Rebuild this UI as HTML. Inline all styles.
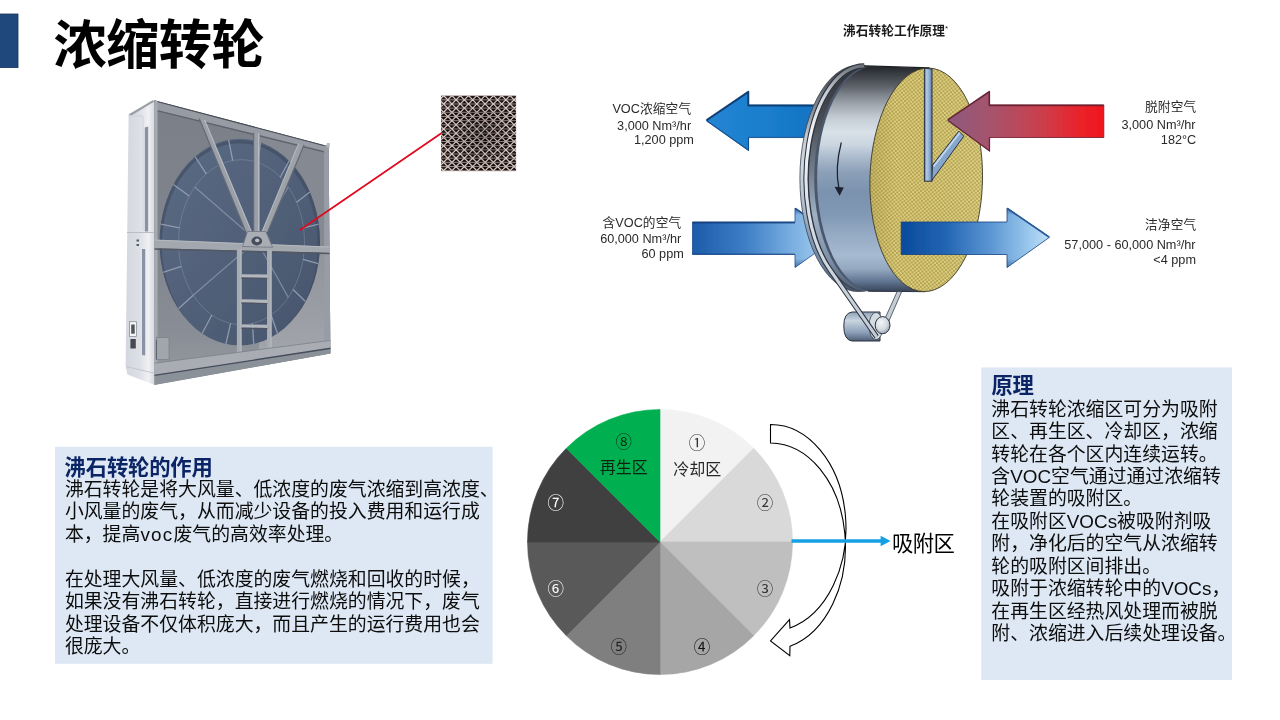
<!DOCTYPE html>
<html lang="zh-CN">
<head>
<meta charset="utf-8">
<title>浓缩转轮</title>
<style>
html,body{margin:0;padding:0;background:#fff;}
body{width:1280px;height:720px;overflow:hidden;position:relative;font-family:"Liberation Sans","Noto Sans CJK SC",sans-serif;}
svg{position:absolute;left:0;top:0;display:block;will-change:transform;}
svg text{font-family:"Liberation Sans","Noto Sans CJK SC",sans-serif;white-space:pre;font-kerning:none;}
</style>
</head>
<body>
<svg width="1280" height="720" viewBox="0 0 1280 720">
<defs>

<filter id="soft" x="-5%" y="-5%" width="110%" height="110%"><feGaussianBlur stdDeviation="0.75"/></filter>
<filter id="soft2" x="-5%" y="-5%" width="110%" height="110%"><feGaussianBlur stdDeviation="0.35"/></filter>
<linearGradient id="mSide" x1="0" y1="0" x2="1" y2="0">
 <stop offset="0" stop-color="#d3d7de"/><stop offset="0.5" stop-color="#dde0e6"/><stop offset="0.78" stop-color="#f0f1f4"/><stop offset="1" stop-color="#d5d8de"/>
</linearGradient>
<linearGradient id="mWheel" x1="0" y1="0" x2="1" y2="1">
 <stop offset="0" stop-color="#5b6b84"/><stop offset="0.5" stop-color="#516078"/><stop offset="1" stop-color="#47556c"/>
</linearGradient>
<linearGradient id="mFront" x1="0" y1="0" x2="0" y2="1">
 <stop offset="0" stop-color="#7a7f88"/><stop offset="0.5" stop-color="#7f848d"/><stop offset="0.8" stop-color="#898d95"/><stop offset="1" stop-color="#979ba2"/>
</linearGradient>
<clipPath id="mClipFront"><path d="M154.3 100.3L328.6 146.2L330.4 353.6L154.3 385Z"/></clipPath>
<linearGradient id="mFrontR" x1="0" y1="0" x2="0" y2="1"><stop offset="0" stop-color="#8f939a"/><stop offset="1" stop-color="#a4a7ad"/></linearGradient>
<clipPath id="mClipWheel"><ellipse cx="239.8" cy="242.2" rx="80.2" ry="103.4"/></clipPath>
<clipPath id="hcClip"><rect x="441" y="95.6" width="75.2" height="75.6"/></clipPath>
<radialGradient id="honeyShade" cx="0.55" cy="0.5" r="0.75">
 <stop offset="0" stop-color="#000" stop-opacity="0.28"/><stop offset="0.6" stop-color="#000" stop-opacity="0.05"/><stop offset="1" stop-color="#fff" stop-opacity="0.12"/>
</radialGradient>
<linearGradient id="wBody" gradientUnits="userSpaceOnUse" x1="0" y1="65" x2="0" y2="292">
 <stop offset="0" stop-color="#1f2226"/><stop offset="0.04" stop-color="#3a3d43"/><stop offset="0.093" stop-color="#5c6068"/>
 <stop offset="0.13" stop-color="#7d838b"/><stop offset="0.176" stop-color="#a0a7af"/><stop offset="0.233" stop-color="#c4ccd4"/>
 <stop offset="0.295" stop-color="#d8e0e8"/><stop offset="0.35" stop-color="#cbd6e0"/><stop offset="0.40" stop-color="#afbecf"/>
 <stop offset="0.47" stop-color="#8ca0b8"/><stop offset="0.56" stop-color="#7b92ae"/><stop offset="0.66" stop-color="#8199b5"/>
 <stop offset="0.75" stop-color="#96abc4"/><stop offset="0.84" stop-color="#a6bad0"/><stop offset="0.9" stop-color="#93a7bf"/>
 <stop offset="0.955" stop-color="#5e7390"/><stop offset="1" stop-color="#364152"/>
</linearGradient>
<linearGradient id="wRim" gradientUnits="userSpaceOnUse" x1="0" y1="65" x2="0" y2="292">
 <stop offset="0" stop-color="#34383e"/><stop offset="0.1" stop-color="#5d626a"/><stop offset="0.2" stop-color="#8a9098"/><stop offset="0.32" stop-color="#c4ccd4"/>
 <stop offset="0.45" stop-color="#cfd7df"/><stop offset="0.6" stop-color="#b4c1cf"/><stop offset="0.72" stop-color="#8fa3bb"/><stop offset="0.86" stop-color="#6f87a5"/><stop offset="1" stop-color="#46556a"/>
</linearGradient>
<pattern id="wHatch" width="3.9" height="3.9" patternUnits="userSpaceOnUse" patternTransform="rotate(6)">
 <rect width="3.9" height="3.9" fill="#ddcf7d"/>
 <path d="M0 0L3.9 3.9M3.9 0L0 3.9" stroke="#b3a152" stroke-width="0.95"/>
</pattern>
<linearGradient id="wRim2" gradientUnits="userSpaceOnUse" x1="0" y1="65" x2="0" y2="292">
 <stop offset="0" stop-color="#2e3238"/><stop offset="0.25" stop-color="#4a4e55"/><stop offset="0.45" stop-color="#6f7a88"/>
 <stop offset="0.66" stop-color="#9eb0c4"/><stop offset="0.85" stop-color="#7f93ab"/><stop offset="1" stop-color="#4a596e"/>
</linearGradient>
<linearGradient id="wBelt" gradientUnits="userSpaceOnUse" x1="0" y1="65" x2="0" y2="340">
 <stop offset="0" stop-color="#6b7078"/><stop offset="0.1" stop-color="#c8cdd3"/><stop offset="0.25" stop-color="#f4f6f8"/>
 <stop offset="0.6" stop-color="#d3dae2"/><stop offset="1" stop-color="#c3cbd4"/>
</linearGradient>
<linearGradient id="wFaceShade" x1="0" y1="0" x2="1" y2="0">
 <stop offset="0" stop-color="#7a6420" stop-opacity="0.22"/><stop offset="0.25" stop-color="#7a6420" stop-opacity="0"/><stop offset="1" stop-color="#fff" stop-opacity="0.06"/>
</linearGradient>
<linearGradient id="aRed" gradientUnits="userSpaceOnUse" x1="947" y1="0" x2="1104" y2="0">
 <stop offset="0" stop-color="#8c5b7d"/><stop offset="0.3" stop-color="#a8526a"/><stop offset="0.6" stop-color="#cb3f4c"/><stop offset="0.85" stop-color="#ea2229"/><stop offset="1" stop-color="#f0161e"/>
</linearGradient>
<linearGradient id="aBlueR" gradientUnits="userSpaceOnUse" x1="901" y1="0" x2="1050" y2="0">
 <stop offset="0" stop-color="#0a4a9c"/><stop offset="0.3" stop-color="#2265b3"/><stop offset="0.6" stop-color="#5b96d2"/><stop offset="0.85" stop-color="#98c6ec"/><stop offset="1" stop-color="#c0e0f8"/>
</linearGradient>
<linearGradient id="aBlueL" gradientUnits="userSpaceOnUse" x1="692" y1="0" x2="838" y2="0">
 <stop offset="0" stop-color="#1c5cab"/><stop offset="0.35" stop-color="#3b7cc4"/><stop offset="0.7" stop-color="#7db1e2"/><stop offset="1" stop-color="#b4d8f5"/>
</linearGradient>
<linearGradient id="aBlueLv" x1="0" y1="0" x2="0" y2="1">
 <stop offset="0" stop-color="#082e6a" stop-opacity="0.55"/><stop offset="0.12" stop-color="#082e6a" stop-opacity="0"/><stop offset="0.85" stop-color="#082e6a" stop-opacity="0"/><stop offset="1" stop-color="#082e6a" stop-opacity="0.5"/>
</linearGradient>
<linearGradient id="aBlueT" gradientUnits="userSpaceOnUse" x1="706" y1="0" x2="815" y2="0">
 <stop offset="0" stop-color="#2384d2"/><stop offset="0.5" stop-color="#1c7fce"/><stop offset="1" stop-color="#1273c3"/>
</linearGradient>
<linearGradient id="wBar" x1="0" y1="0" x2="1" y2="0">
 <stop offset="0" stop-color="#54709a"/><stop offset="0.3" stop-color="#b2cbe6"/><stop offset="0.65" stop-color="#8dadd2"/><stop offset="1" stop-color="#5876a0"/>
</linearGradient>
<linearGradient id="wMotor" x1="0" y1="0" x2="0" y2="1">
 <stop offset="0" stop-color="#8ea2b8"/><stop offset="0.3" stop-color="#c9d5e0"/><stop offset="0.7" stop-color="#8ba0b8"/><stop offset="1" stop-color="#4f6078"/>
</linearGradient>
<radialGradient id="wCap" cx="0.4" cy="0.35" r="0.7">
 <stop offset="0" stop-color="#f4f6f8"/><stop offset="0.6" stop-color="#d3d9e0"/><stop offset="1" stop-color="#8e99a8"/>
</radialGradient>
<clipPath id="wClipFace"><ellipse cx="926.2" cy="179.8" rx="56.3" ry="111.8" transform="rotate(1.3 926.2 179.8)"/></clipPath>
</defs>
<rect x="-1" y="14" width="19" height="53.6" fill="#1f497d" stroke="#17365d" stroke-width="0.8"/>
<text x="53.4 106.1 158.8 211.5" y="64.3" font-size="53.3" font-weight="bold" fill="#000">浓缩转轮</text>
<rect x="55" y="446.8" width="437.6" height="217" fill="#dde8f4"/>
<rect x="981.2" y="367.5" width="250.8" height="312.5" fill="#dde8f4"/>
<text x="64.6 85.75 106.9 128.05 149.2 170.35 191.5" y="474.6" font-size="21.33" font-weight="bold" fill="#0b2466">沸石转轮的作用</text>
<text x="64.9" y="496" font-size="18.87" fill="#0d0d0d">沸石转轮是将大风量、低浓度的废气浓缩到高浓度、</text>
<text x="64.9" y="518.45" font-size="18.87" fill="#0d0d0d">小风量的废气，从而减少设备的投入费用和运行成</text>
<text y="540.9" font-size="18.87" fill="#0d0d0d"><tspan x="64.9">本，提高</tspan><tspan x="140.38" letter-spacing="1.25">voc</tspan><tspan x="173.49">废气的高效率处理。</tspan></text>
<text x="64.9" y="585.8" font-size="18.87" fill="#0d0d0d">在处理大风量、低浓度的废气燃烧和回收的时候，</text>
<text x="64.9" y="608.25" font-size="18.87" fill="#0d0d0d">如果没有沸石转轮，直接进行燃烧的情况下，废气</text>
<text x="64.9" y="630.7" font-size="18.87" fill="#0d0d0d">处理设备不仅体积庞大，而且产生的运行费用也会</text>
<text x="64.9" y="653.15" font-size="18.87" fill="#0d0d0d">很庞大。</text>
<text x="991.6 1012.6" y="392.6" font-size="21.33" font-weight="bold" fill="#0b2466">原理</text>
<text x="991.3" y="415.6" font-size="18.87" fill="#0d0d0d">沸石转轮浓缩区可分为吸附</text>
<text x="991.3" y="438.05" font-size="18.87" fill="#0d0d0d">区、再生区、冷却区，浓缩</text>
<text x="991.3" y="460.5" font-size="18.87" fill="#0d0d0d">转轮在各个区内连续运转。</text>
<text y="482.95" font-size="18.87" fill="#0d0d0d"><tspan x="991.3">含</tspan><tspan x="1010.17">VOC</tspan><tspan x="1051.06">空气通过通过浓缩转</tspan></text>
<text x="991.3" y="505.4" font-size="18.87" fill="#0d0d0d">轮装置的吸附区。</text>
<text y="527.85" font-size="18.87" fill="#0d0d0d"><tspan x="991.3">在吸附区</tspan><tspan x="1066.78">VOCs</tspan><tspan x="1117.11">被吸附剂吸</tspan></text>
<text x="991.3" y="550.3" font-size="18.87" fill="#0d0d0d">附，净化后的空气从浓缩转</text>
<text x="991.3" y="572.75" font-size="18.87" fill="#0d0d0d">轮的吸附区间排出。</text>
<text y="595.2" font-size="18.87" fill="#0d0d0d"><tspan x="991.3">吸附于浓缩转轮中的</tspan><tspan x="1161.13">VOCs</tspan><tspan x="1211.46">，</tspan></text>
<text x="991.3" y="617.65" font-size="18.87" fill="#0d0d0d">在再生区经热风处理而被脱</text>
<text x="991.3" y="640.1" font-size="18.87" fill="#0d0d0d">附、浓缩进入后续处理设备。</text>
<path d="M660 542L660 409.5A132.5 132.5 0 0 1 753.69 448.31Z" fill="#f2f2f2" stroke="#f2f2f2" stroke-width="0.6"/>
<path d="M660 542L753.69 448.31A132.5 132.5 0 0 1 792.5 542Z" fill="#d9d9d9" stroke="#d9d9d9" stroke-width="0.6"/>
<path d="M660 542L792.5 542A132.5 132.5 0 0 1 753.69 635.69Z" fill="#bfbfbf" stroke="#bfbfbf" stroke-width="0.6"/>
<path d="M660 542L753.69 635.69A132.5 132.5 0 0 1 660 674.5Z" fill="#a6a6a6" stroke="#a6a6a6" stroke-width="0.6"/>
<path d="M660 542L660 674.5A132.5 132.5 0 0 1 566.31 635.69Z" fill="#7f7f7f" stroke="#7f7f7f" stroke-width="0.6"/>
<path d="M660 542L566.31 635.69A132.5 132.5 0 0 1 527.5 542Z" fill="#595959" stroke="#595959" stroke-width="0.6"/>
<path d="M660 542L527.5 542A132.5 132.5 0 0 1 566.31 448.31Z" fill="#404040" stroke="#404040" stroke-width="0.6"/>
<path d="M660 542L566.31 448.31A132.5 132.5 0 0 1 660 409.5Z" fill="#00b050" stroke="#00b050" stroke-width="0.6"/>
<text x="688.75" y="449.3" font-size="16.5" fill="#333">①</text>
<text x="756.75" y="508.8" font-size="16.5" fill="#333">②</text>
<text x="756.75" y="595" font-size="16.5" fill="#333">③</text>
<text x="693.75" y="652.6" font-size="16.5" fill="#111">④</text>
<text x="610.55" y="652.6" font-size="16.5" fill="#222">⑤</text>
<text x="547.55" y="595" font-size="16.5" fill="#fff">⑥</text>
<text x="547.55" y="508.8" font-size="16.5" fill="#fff">⑦</text>
<text x="615.55" y="448" font-size="16.5" fill="#0a2a12">⑧</text>
<text x="599.8" y="473.4" font-size="16" fill="#0c2412">再生区</text>
<text x="673.3" y="475.4" font-size="16" fill="#262626">冷却区</text>
<path d="M770.5 424.5A75.4 103.5 0 0 1 790 628L789.5 619.6L770.5 641L789.8 655.6L790 646.3A75.4 103.5 0 0 0 770.5 443Z" fill="none" stroke="#000" stroke-width="1.1" stroke-linejoin="miter"/>
<path d="M791.5 541H882" stroke="#16a0e4" stroke-width="3.5" fill="none"/>
<path d="M880.6 535.8L890.6 541L880.6 546.2Z" fill="#16a0e4"/>
<text x="892 912.7 933.4" y="551" font-size="21.33" fill="#000">吸附区</text>
<g filter="url(#soft)">
<path d="M128.6 114.2 L152.5 100.6 L154.6 100.3 L154.6 385.0 L127.4 374.4 L125.6 366.0 L127.3 230.0 Z" fill="url(#mSide)"/>
<path d="M128.6 114.4 L152.6 100.3 L154.5 101.5 L131.5 115.6 Z" fill="#9a9fa8"/>
<path d="M144.8 127.5 L148.2 126.5 L148.2 231.5 L144.8 231.5 Z" fill="#8a93a6"/>
<path d="M142.0 249.0 L145.2 249.0 L145.2 355.5 L142.0 355.0 Z" fill="#8a93a6"/>
<path d="M127 232.5L154 232.5" stroke="#b9bdc5" stroke-width="1"/>
<path d="M128.5 116L143 116L143 231" stroke="#cfd2d8" stroke-width="1" fill="none"/>
<path d="M126 366.5L154.3 373.2" stroke="#c3c7ce" stroke-width="1"/>
<rect x="129.5" y="321.7" width="6.9" height="14.7" fill="#f4f5f6" stroke="#8c919a" stroke-width="0.8"/>
<rect x="131.2" y="324.5" width="3.5" height="9.2" fill="#4f5561"/>
<rect x="130.4" y="339" width="5.4" height="9.5" fill="#444a56"/>
<rect x="136.5" y="239.5" width="2.5" height="2" fill="#555b66"/><rect x="136.5" y="244" width="2.5" height="2" fill="#555b66"/>
<g clip-path="url(#mClipFront)">
<rect x="150" y="95" width="185" height="295" fill="url(#mFront)"/>
<path d="M259.0 250.0 L331.0 253.0 L331.0 354.0 L259.0 366.0 Z" fill="url(#mFrontR)"/>
<path d="M259.0 133.0 L331.0 147.0 L331.0 250.0 L259.0 247.0 Z" fill="#858a92"/>
<ellipse cx="239.8" cy="242.2" rx="80.2" ry="103.4" fill="url(#mWheel)"/>
<g clip-path="url(#mClipWheel)" fill="none">
<ellipse cx="239.8" cy="245" rx="79.5" ry="103.4" stroke="#3d495e" stroke-width="3.2" opacity="0.6"/>
<ellipse cx="241.5" cy="242.2" rx="63" ry="82.5" stroke="#8692a8" stroke-width="0.9" opacity="0.55"/>
<path d="M303.1 259.4L318.2 263.7M293.1 289.5L305.5 301.5M271.1 315.0L277.5 333.5M252.4 323.4L253.7 344.0M230.6 323.4L225.9 344.0M211.9 315.0L202.1 333.5M193.2 295.2L178.4 308.7M181.3 266.3L163.1 272.4M179.5 227.9L160.8 224.2M189.3 196.1L173.3 184.4M206.3 173.8L195.0 156.5M232.7 160.5L228.6 139.8M257.8 162.5L260.6 142.3M280.3 177.2L289.2 160.7M296.6 202.2L309.9 192.1M303.5 227.9L318.8 224.2" stroke="#a3aec0" stroke-width="1.3" opacity="0.75"/>
<path d="M256.5 240.5L194.7 187.0M256.5 240.5L193.2 295.2M256.5 240.5L288.3 187.0M256.5 240.5L288.3 297.4" stroke="#929eb2" stroke-width="1.2" opacity="0.7"/>
</g>
<path d="M154.3 100.3 L328.6 146.2 L328.6 151.8 L154.3 109.8 Z" fill="#979ba3"/>
<path d="M154.3 100.6L328.6 146.4" stroke="#474c55" stroke-width="1.5"/>
<path d="M157 110.6L324 151.8" stroke="#5f646e" stroke-width="1.3"/>
<path d="M154.3 100.3 L157.6 101.2 L157.6 385.0 L154.3 385.0 Z" fill="#a6aab1"/>
<path d="M324.2 145.0 L331.0 147.0 L331.0 353.0 L324.2 354.0 Z" fill="#989ca4"/>
<path d="M199.4 118.6 L204.6 120.0 L251.5 232.0 L246.0 232.0 Z" fill="#9b9fa7"/>
<path d="M204.6 120L251.5 232" stroke="#b9bdc4" stroke-width="1.1"/>
<path d="M199.2 118.6L245.8 232" stroke="#646a76" stroke-width="1.2"/>
<path d="M298.6 143.6 L303.8 145.0 L267.5 232.0 L262.0 232.0 Z" fill="#9da1a8"/>
<path d="M298.6 143.6L262 232" stroke="#b5b9c0" stroke-width="1.1"/>
<path d="M304 145L267.7 232" stroke="#646a76" stroke-width="1.2"/>
<path d="M253.8 132.3 L259.6 133.8 L259.6 232.0 L253.8 232.0 Z" fill="#9a9ea6"/>
<path d="M258.6 133.6V232" stroke="#b7bbc2" stroke-width="1.2"/>
<path d="M253.7 132.4V232" stroke="#666c78" stroke-width="1.1"/>
<path d="M154.3 239.8 L331.0 246.9 L331.0 252.8 L154.3 248.2 Z" fill="#a3a7ae"/>
<path d="M154.3 240L331 247.1" stroke="#b6bac1" stroke-width="1"/>
<path d="M154.3 249L331 253.6" stroke="#525864" stroke-width="1.6"/>
<path d="M247.5 231.5 L265.8 231.5 L272.6 247.3 L242.5 246.5 Z" fill="#a9adb4" stroke="#757a85" stroke-width="0.9"/>
<ellipse cx="256.8" cy="241" rx="5.4" ry="4.4" fill="#474e5a"/>
<ellipse cx="257.2" cy="240.4" rx="2.2" ry="1.8" fill="#b9bdc4"/>
<path d="M236.9 248.5 L241.6 248.7 L241.6 356.0 L236.9 356.6 Z" fill="#a7abb2"/>
<path d="M241 249V356" stroke="#bbbfc6" stroke-width="0.9"/>
<path d="M267.0 249.6 L271.6 249.8 L271.6 351.4 L267.0 352.0 Z" fill="#a7abb2"/>
<path d="M271 250V351.5" stroke="#bbbfc6" stroke-width="0.9"/>
<path d="M241.4 274.2 L267.4 274.6 L267.4 277.8 L241.4 277.4 Z" fill="#b4b8be"/>
<path d="M241.4 278.1L267.4 278.5" stroke="#4f5561" stroke-width="1.2"/>
<path d="M241.4 299.3 L267.4 299.7 L267.4 302.9 L241.4 302.5 Z" fill="#b4b8be"/>
<path d="M241.4 303.2L267.4 303.6" stroke="#4f5561" stroke-width="1.2"/>
<path d="M241.4 324.4 L267.4 324.8 L267.4 328.0 L241.4 327.6 Z" fill="#b4b8be"/>
<path d="M241.4 328.3L267.4 328.7" stroke="#4f5561" stroke-width="1.2"/>
<rect x="156.6" y="337.5" width="12.4" height="22" fill="#a1a5ac" stroke="#7a7f88" stroke-width="0.7"/>
<path d="M156.4 340V359.5" stroke="#5b616c" stroke-width="1.1"/>
<path d="M154.3 363.2 L331.0 340.3 L331.0 348.2 L154.3 375.2 Z" fill="#a9adb3"/>
<path d="M154.3 363.2L331 340.3" stroke="#7c818a" stroke-width="0.8"/>
<path d="M154.3 375.2 L331.0 348.2 L331.0 354.0 L154.3 385.0 Z" fill="#8b9199"/>
<path d="M154.3 375.4L331 348.3" stroke="#454e5b" stroke-width="1.4"/>
</g>
<rect x="326.8" y="143" width="3" height="4.5" fill="#b6bac0"/>
</g>
<path d="M300.3 229.8L441.3 133.2" stroke="#e00a20" stroke-width="1.75" stroke-linecap="round"/>
<g filter="url(#soft2)"><g clip-path="url(#hcClip)"><rect x="441.0" y="95.6" width="75.2" height="75.6" fill="#170e0f"/><path d="M440.0 95.63H517.2M440.0 99.80H517.2M440.0 103.97H517.2M440.0 108.14H517.2M440.0 112.31H517.2M440.0 116.48H517.2M440.0 120.65H517.2M440.0 124.82H517.2M440.0 128.99H517.2M440.0 133.16H517.2M440.0 137.33H517.2M440.0 141.50H517.2M440.0 145.67H517.2M440.0 149.84H517.2M440.0 154.01H517.2M440.0 158.18H517.2M440.0 162.35H517.2M440.0 166.52H517.2M440.0 170.69H517.2" stroke="#b5a199" stroke-width="0.85" fill="none"/><path d="M344.00 95.63L427.00 179.03M344.00 95.63L261.00 179.03M352.30 95.63L435.30 179.03M352.30 95.63L269.30 179.03M360.60 95.63L443.60 179.03M360.60 95.63L277.60 179.03M368.90 95.63L451.90 179.03M368.90 95.63L285.90 179.03M377.20 95.63L460.20 179.03M377.20 95.63L294.20 179.03M385.50 95.63L468.50 179.03M385.50 95.63L302.50 179.03M393.80 95.63L476.80 179.03M393.80 95.63L310.80 179.03M402.10 95.63L485.10 179.03M402.10 95.63L319.10 179.03M410.40 95.63L493.40 179.03M410.40 95.63L327.40 179.03M418.70 95.63L501.70 179.03M418.70 95.63L335.70 179.03M427.00 95.63L510.00 179.03M427.00 95.63L344.00 179.03M435.30 95.63L518.30 179.03M435.30 95.63L352.30 179.03M443.60 95.63L526.60 179.03M443.60 95.63L360.60 179.03M451.90 95.63L534.90 179.03M451.90 95.63L368.90 179.03M460.20 95.63L543.20 179.03M460.20 95.63L377.20 179.03M468.50 95.63L551.50 179.03M468.50 95.63L385.50 179.03M476.80 95.63L559.80 179.03M476.80 95.63L393.80 179.03M485.10 95.63L568.10 179.03M485.10 95.63L402.10 179.03M493.40 95.63L576.40 179.03M493.40 95.63L410.40 179.03M501.70 95.63L584.70 179.03M501.70 95.63L418.70 179.03M510.00 95.63L593.00 179.03M510.00 95.63L427.00 179.03M518.30 95.63L601.30 179.03M518.30 95.63L435.30 179.03M526.60 95.63L609.60 179.03M526.60 95.63L443.60 179.03M534.90 95.63L617.90 179.03M534.90 95.63L451.90 179.03M543.20 95.63L626.20 179.03M543.20 95.63L460.20 179.03M551.50 95.63L634.50 179.03M551.50 95.63L468.50 179.03M559.80 95.63L642.80 179.03M559.80 95.63L476.80 179.03M568.10 95.63L651.10 179.03M568.10 95.63L485.10 179.03M576.40 95.63L659.40 179.03M576.40 95.63L493.40 179.03M584.70 95.63L667.70 179.03M584.70 95.63L501.70 179.03M593.00 95.63L676.00 179.03M593.00 95.63L510.00 179.03M601.30 95.63L684.30 179.03M601.30 95.63L518.30 179.03M609.60 95.63L692.60 179.03M609.60 95.63L526.60 179.03M617.90 95.63L700.90 179.03M617.90 95.63L534.90 179.03M626.20 95.63L709.20 179.03M626.20 95.63L543.20 179.03M634.50 95.63L717.50 179.03M634.50 95.63L551.50 179.03" stroke="#e2d2cb" stroke-width="1.25" fill="none"/><rect x="441.0" y="95.6" width="75.2" height="75.6" fill="url(#honeyShade)"/></g></g>
<g filter="url(#soft2)">
<path d="M706.2 120.4L748.5 91.4V105.2H818V137.3H748.5V150.6Z" fill="url(#aBlueT)" stroke="#0c56a0" stroke-width="0.9" stroke-linejoin="round"/>
<path d="M706.8 121L748.5 150.2V137.3" stroke="#0a3f7c" stroke-width="1.2" fill="none" opacity="0.6"/>
<path d="M706.6 120.2L748.3 91.8V105.6H818" stroke="#0a3568" stroke-width="2" fill="none" stroke-linejoin="round" opacity="0.85"/>
<path d="M748.5 137.6H818" stroke="#0a3f7c" stroke-width="1" opacity="0.55"/>
<path d="M692.5 222H795V208L837 237.6L795 267.5V254.5H692.5Z" fill="url(#aBlueL)" stroke="#1d4f92" stroke-width="0.8" stroke-linejoin="round"/>
<path d="M692.5 222H795V208L837 237.6L795 267.5V254.5H692.5Z" fill="url(#aBlueLv)"/>
<path d="M795.6 208.6L812 220" stroke="#1d4f92" stroke-width="1.6"/>
<path d="M692.5 222.6H795" stroke="#123d7a" stroke-width="1.8" opacity="0.8"/>
<path d="M692.5 254H795" stroke="#123d7a" stroke-width="1.2" opacity="0.6"/>
<ellipse cx="858.5" cy="178.4" rx="58.6" ry="113.2" fill="url(#wRim)" stroke="#3c4350" stroke-width="0.8"/>
<ellipse cx="864.2" cy="178.6" rx="58.2" ry="112.7" fill="#3f4654"/>
<ellipse cx="867.2" cy="178.7" rx="58.2" ry="112.6" fill="url(#wRim2)"/>
<ellipse cx="872.2" cy="178.8" rx="58" ry="112.6" fill="#4b586c"/>
<path d="M873 66.3A57.6 112.6 0 0 0 873 291.4L925 291.6L929.5 68Z" fill="url(#wBody)"/>
<path d="M858 65.6L929.5 67.9" stroke="#1f2226" stroke-width="1.2" fill="none"/>
<path d="M868 291.2L925 291.7" stroke="#2a3342" stroke-width="1" fill="none"/>
<path d="M841.3 142.5Q834.6 168 839 189" stroke="#1d2230" stroke-width="1.25" fill="none"/>
<path d="M834.6 186.8L843.8 187.4L839.6 195.8Z" fill="#1d2230"/>
<g clip-path="url(#wClipFace)"><rect x="865" y="60" width="125" height="240" fill="url(#wHatch)"/><rect x="865" y="60" width="125" height="240" fill="url(#wFaceShade)"/></g>
<ellipse cx="926.2" cy="179.8" rx="56.3" ry="111.8" transform="rotate(1.3 926.2 179.8)" fill="none" stroke="#3d3a2a" stroke-width="0.9"/>
<path d="M932.5 165L958.8 131.2L963.8 136.2L931.2 181.3Z" fill="#86a6cc" stroke="#2a3340" stroke-width="1" stroke-linejoin="round"/>
<path d="M933.6 166.6L959.8 132.8" stroke="#c6daee" stroke-width="1.6"/>
<path d="M924.4 68.4L932 69V181.2H924.4Z" fill="url(#wBar)" stroke="#2a3340" stroke-width="1" stroke-linejoin="round"/>
<path d="M947.5 120L989.5 91.2V105H1103.8V137.5H989.5V151.2Z" fill="url(#aRed)" stroke="#7a2436" stroke-width="0.9" stroke-linejoin="round"/>
<path d="M948 120.6L989.5 150.8V137.6" stroke="#5b2034" stroke-width="1.3" fill="none" opacity="0.65"/>
<path d="M948 119.6L989.3 91.8V105.3H1103.8" stroke="#5a1a2a" stroke-width="1.7" fill="none" stroke-linejoin="round" opacity="0.7"/>
<path d="M901.2 222H1007V208L1049.6 237.2L1007 267.5V254.5H901.2Z" fill="url(#aBlueR)" stroke="#14407f" stroke-width="0.8" stroke-linejoin="round"/>
<path d="M901.2 222H1007V208L1049.6 237.2L1007 267.5V254.5H901.2Z" fill="url(#aBlueLv)" opacity="0.8"/>
<path d="M1007.4 208.5L1049 237" stroke="#2a5a9a" stroke-width="1.7"/>
<path d="M897.2 291.5L901.6 291.8L888.5 322L884.3 320Z" fill="#c5ccd4" stroke="#39414e" stroke-width="0.8"/>
<path d="M852 312Q843.8 313 843.8 326Q843.8 340 852 341H880V312Z" fill="url(#wMotor)" stroke="#2b323e" stroke-width="1"/>
<ellipse cx="876" cy="326" rx="7" ry="13.6" fill="#d5dbe2" stroke="#39414e" stroke-width="0.8"/>
<ellipse cx="882.6" cy="325.2" rx="7.4" ry="8.6" fill="url(#wCap)" stroke="#2b323e" stroke-width="1"/>
<path d="M864.2 65.9A58.2 112.7 0 0 0 830.5 270.5L876.6 336.8" stroke="#2b323e" stroke-width="5.2" fill="none" stroke-linejoin="round"/>
<path d="M864.2 65.9A58.2 112.7 0 0 0 830.5 270.5L876.6 336.8" stroke="url(#wBelt)" stroke-width="3.1" fill="none" stroke-linejoin="round"/>
</g>
<text y="112.6" font-size="12.7" fill="#2a2a2a"><tspan x="612.38">VOC</tspan><tspan x="639.9 652.75 665.6 678.45">浓缩空气</tspan></text>
<text y="129.5" font-size="12.7" fill="#2a2a2a"><tspan x="617.09">3,000 Nm³/hr</tspan></text>
<text y="144.2" font-size="12.7" fill="#2a2a2a"><tspan x="633.99">1,200 ppm</tspan></text>
<text y="226.8" font-size="12.7" fill="#2a2a2a"><tspan x="602.48">含</tspan><tspan x="615.33">VOC</tspan><tspan x="642.85 655.7 668.55">的空气</tspan></text>
<text y="243" font-size="12.7" fill="#2a2a2a"><tspan x="600.13">60,000 Nm³/hr</tspan></text>
<text y="258" font-size="12.7" fill="#2a2a2a"><tspan x="641.44">60 ppm</tspan></text>
<text x="1145 1157.85 1170.7 1183.55" y="110.8" font-size="12.7" fill="#2a2a2a">脱附空气</text>
<text y="128.5" font-size="12.7" fill="#2a2a2a"><tspan x="1121.49">3,000 Nm³/hr</tspan></text>
<text y="143.5" font-size="12.7" fill="#2a2a2a"><tspan x="1160.86">182°C</tspan></text>
<text x="1145 1157.85 1170.7 1183.55" y="229" font-size="12.7" fill="#2a2a2a">洁净空气</text>
<text y="249" font-size="12.7" fill="#2a2a2a"><tspan x="1064.3">57,000 - 60,000 Nm³/hr</tspan></text>
<text y="264.3" font-size="12.7" fill="#2a2a2a"><tspan x="1153.29">&lt;4 ppm</tspan></text>
<text y="34.6" font-size="12.7" font-weight="bold" fill="#1c1c1c"><tspan x="843 855.75 868.5 881.25 894 906.75 919.5 932.25">沸石转轮工作原理</tspan><tspan x="945" dy="-4" font-size="8" font-weight="normal">*</tspan></text>

</svg>
</body>
</html>
